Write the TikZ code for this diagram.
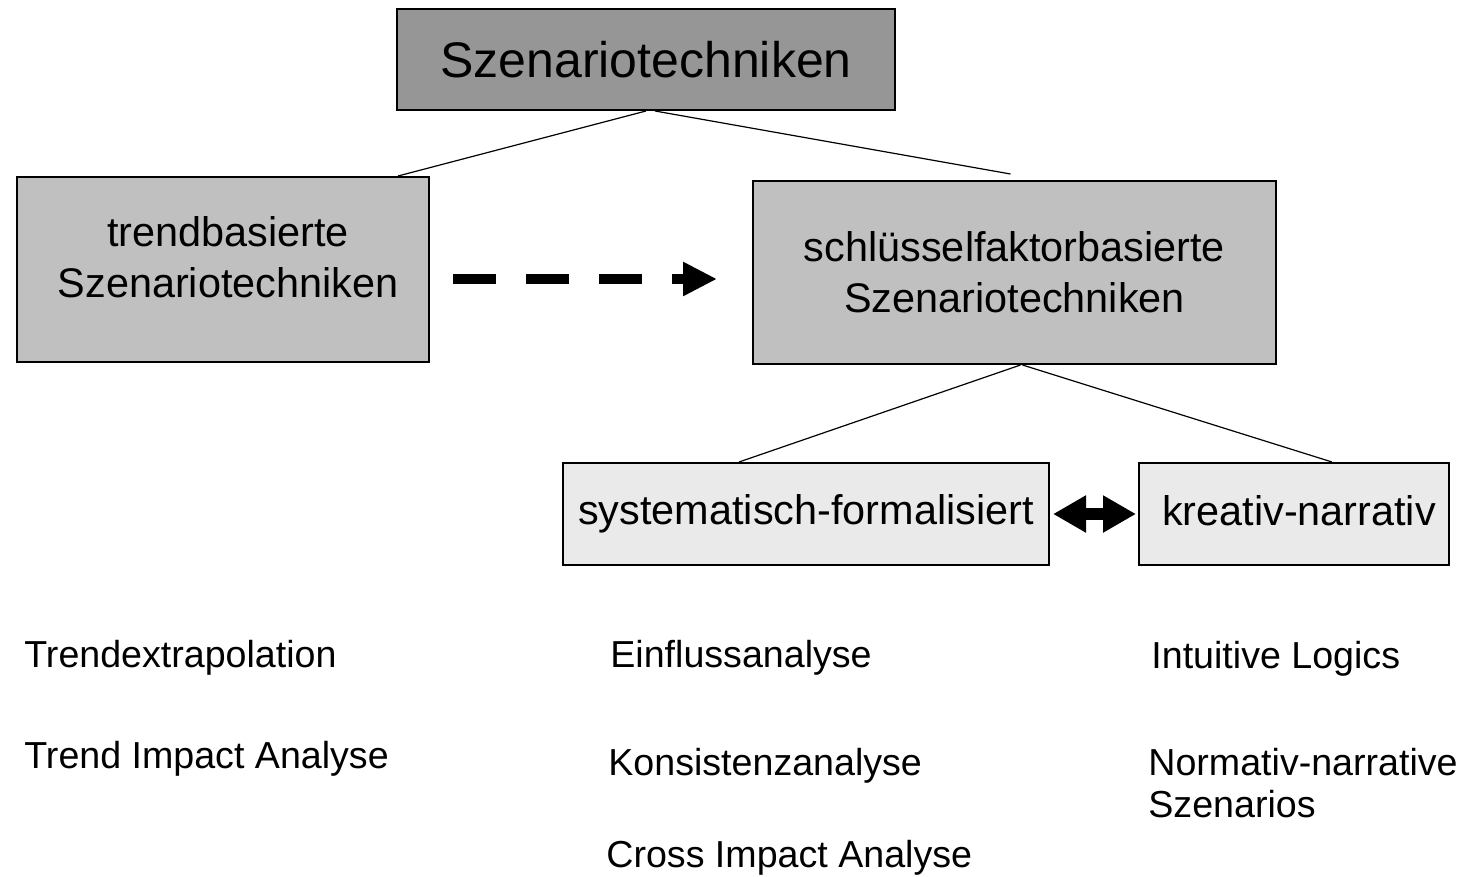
\documentclass[tikz,border=0pt]{standalone}
\usepackage{fontspec}
\setmainfont{Liberation Sans}
\usetikzlibrary{arrows.meta}
\definecolor{topgray}{HTML}{969696}
\definecolor{midgray}{HTML}{C0C0C0}
\definecolor{lowgray}{HTML}{EAEAEA}
\tikzset{
  boxbase/.style={draw=black, line width=1pt, inner sep=0pt, align=center},
  topbox/.style={boxbase, fill=topgray, font=\fontsize{25}{30}\selectfont},
  midbox/.style={boxbase, fill=midgray, font=\fontsize{20.7}{25.5}\selectfont},
  lowbox/.style={boxbase, fill=lowgray, font=\fontsize{20.7}{25.5}\selectfont},
  boxtext/.style={inner sep=0pt, align=center, font=\fontsize{20.7}{25.5}\selectfont},
  item/.style={inner sep=0pt, anchor=base west, align=left, font=\fontsize{18.8}{21}\selectfont},
  link/.style={line width=0.6pt, draw=black},
  bigdash/.style={line width=5pt, dash pattern=on 21.5pt off 15pt, -{Triangle[length=17pt,width=16pt]}},
  bigdouble/.style={line width=6pt, {Triangle[length=16.5pt,width=17.5pt]}-{Triangle[length=16.5pt,width=17.5pt]}}
}
\begin{document}
\begin{tikzpicture}[x=0.5pt,y=-0.5pt]
\useasboundingbox (0,0) rectangle (1460,877);
% boxes
\node[topbox, minimum width=249pt, minimum height=50.5pt] (top) at (646,59.5) {Szenariotechniken};
\node[midbox, minimum width=206pt, minimum height=92.5pt] (trend) at (223,269.5) {};
\node[boxtext] (trendtxt) at (228,257) {trendbasierte\\Szenariotechniken};
\node[midbox, minimum width=261.5pt, minimum height=91.5pt] (schl) at (1014.5,272.5) {schlüsselfaktorbasierte\\Szenariotechniken};
\node[lowbox, minimum width=243pt, minimum height=51pt] (syst) at (806,514) {systematisch-formalisiert};
\node[lowbox, minimum width=155pt, minimum height=51pt] (krea) at (1294,514) {};
\node[boxtext] (kreatxt) at (1299,511) {kreativ-narrativ};
% connectors
\draw[link] (top.south) -- ([xshift=-16pt]trend.north east);
\draw[link] ([xshift=4.5pt]top.south) -- ([xshift=-2pt,yshift=3pt]schl.north);
\draw[link] ([xshift=3pt]schl.south) -- ([xshift=-33.5pt]syst.north);
\draw[link] ([xshift=4pt]schl.south) -- ([xshift=19pt]krea.north);
\coordinate (da1) at (453,279);
\coordinate (da2) at (717,279);
\draw[bigdash] (da1) -- (da2);
\draw[bigdouble] ([xshift=1.5pt]syst.east) -- ([xshift=-1pt]krea.west);
% items
\node[item] (i1) at (24,667) {Trendextrapolation};
\node[item] (i2) at (24,768) {Trend Impact Analyse};
\node[item] (i3) at (610,667) {Einflussanalyse};
\node[item] (i4) at (608,775) {Konsistenzanalyse};
\node[item] (i5) at (606,867) {Cross Impact Analyse};
\node[item] (i6) at (1151,668) {Intuitive Logics};
\node[item] (i7) at (1148,817) {Normativ-narrative\\Szenarios};
\end{tikzpicture}
\end{document}
